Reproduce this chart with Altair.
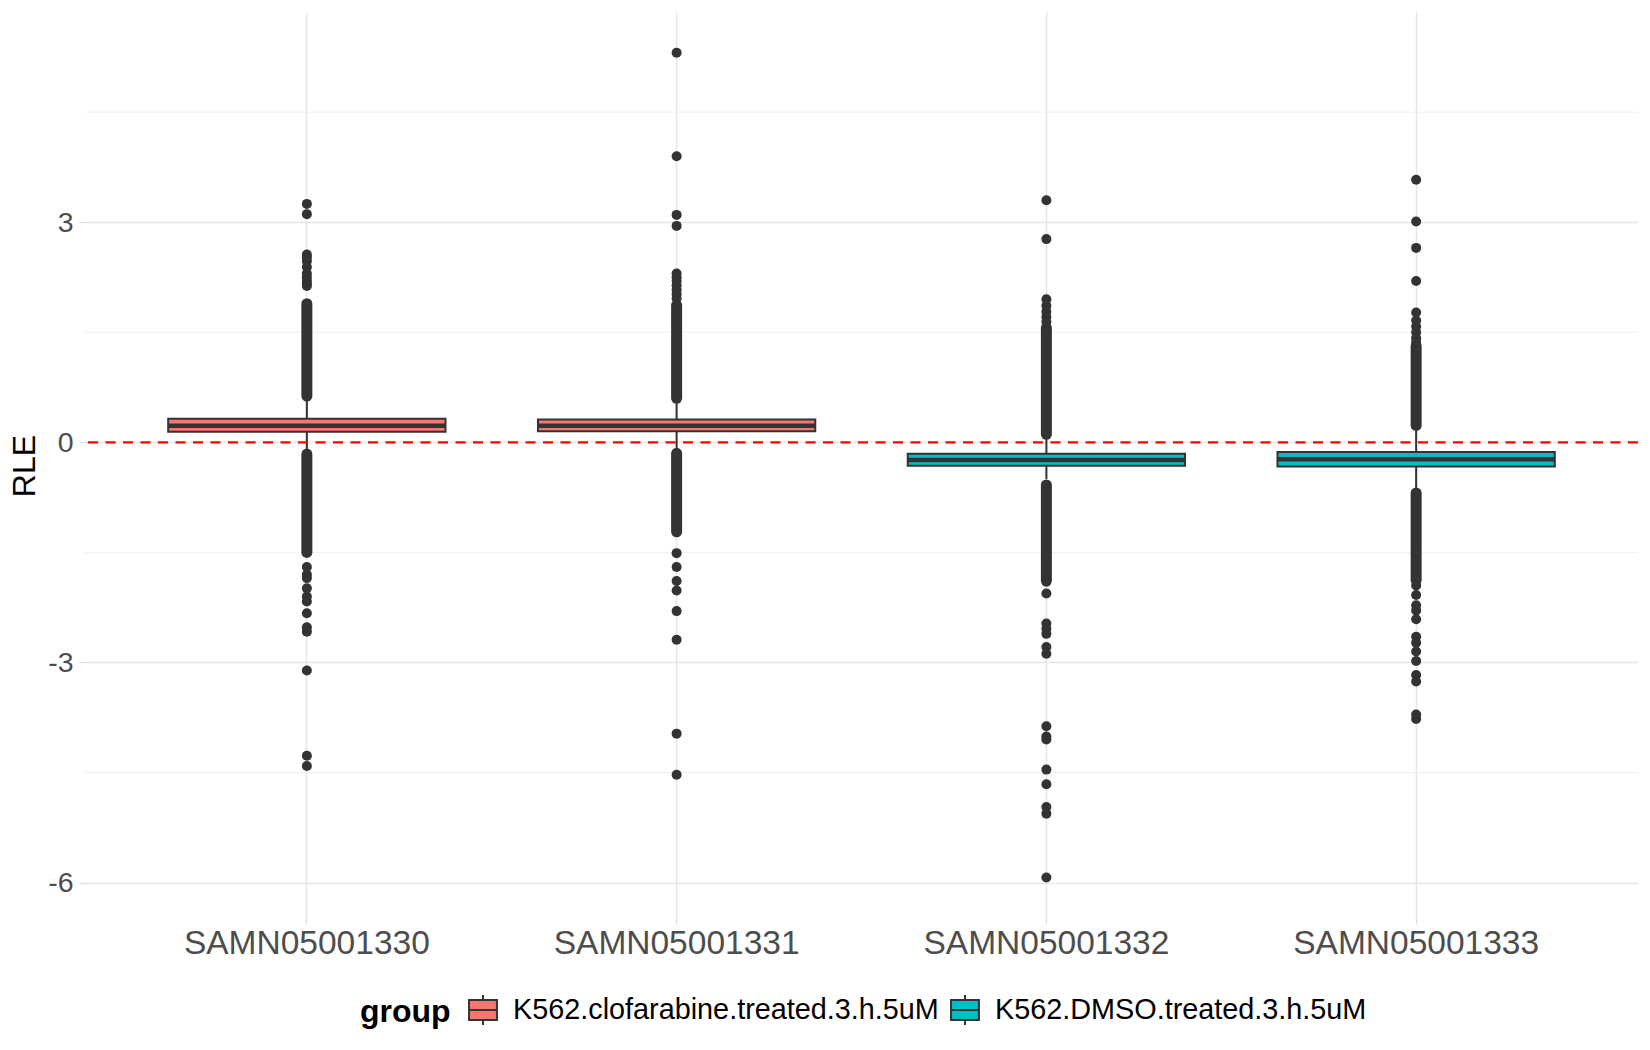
import altair as alt
import pandas as pd

# ---------------- data ----------------
samples = ["SAMN05001330", "SAMN05001331", "SAMN05001332", "SAMN05001333"]
groups = ["K562.clofarabine.treated.3.h.5uM", "K562.clofarabine.treated.3.h.5uM",
          "K562.DMSO.treated.3.h.5uM", "K562.DMSO.treated.3.h.5uM"]
group_order = ["K562.clofarabine.treated.3.h.5uM", "K562.DMSO.treated.3.h.5uM"]

lower_whisker = [-0.10, -0.08, -0.50, -0.63]
q1 = [0.145, 0.150, -0.320, -0.330]
median = [0.225, 0.225, -0.240, -0.230]
q3 = [0.320, 0.310, -0.155, -0.130]
upper_whisker = [0.575, 0.530, 0.050, 0.160]

# runs of outliers so dense that the dots merge into a solid column (start, end)
dense_upper = [(0.63, 1.89), (0.60, 1.87), (0.11, 1.56), (0.23, 1.31)]
dense_lower = [(-0.16, -1.50), (-0.15, -1.22), (-0.58, -1.88), (-0.69, -1.88)]

# separate outlier points
outliers_1330 = [3.25, 3.11, 2.56, 2.52, 2.47, 2.39, 2.30, 2.25, 2.20, 2.16, 2.13,
                 -1.70, -1.80, -1.85, -1.99, -2.10, -2.17, -2.33, -2.52, -2.58,
                 -3.11, -4.27, -4.41]
outliers_1331 = [5.31, 3.90, 3.10, 2.95, 2.30, 2.25, 2.20, 2.14, 2.08, 2.02, 1.96,
                 -1.51, -1.70, -1.89, -2.02, -2.30, -2.69, -3.97, -4.53]
outliers_1332 = [3.30, 2.77, 1.95, 1.86, 1.78, 1.71, 1.64,
                 -1.90, -2.06, -2.47, -2.54, -2.61, -2.79, -2.88, -3.87, -4.01,
                 -4.05, -4.46, -4.66, -4.97, -5.06, -5.93]
outliers_1333 = [3.58, 3.01, 2.65, 2.20, 1.77, 1.66, 1.58, 1.50, 1.42, 1.36,
                 -1.95, -2.08, -2.22, -2.29, -2.41, -2.65, -2.73, -2.85, -2.98,
                 -3.17, -3.26, -3.71, -3.77]
outliers = [outliers_1330, outliers_1331, outliers_1332, outliers_1333]

y_major = [-6, -3, 0, 3]
y_minor = [-4.5, -1.5, 1.5, 4.5]
reference_line = [0]

# ---------------- tables ----------------
box_df = pd.DataFrame({"sample": samples, "group": groups, "lw": lower_whisker,
                       "q1": q1, "med": median, "q3": q3, "uw": upper_whisker})
runs_rows = []
for s, u, l in zip(samples, dense_upper, dense_lower):
    runs_rows.append({"sample": s, "a": u[0], "b": u[1]})
    runs_rows.append({"sample": s, "a": l[0], "b": l[1]})
runs_df = pd.DataFrame(runs_rows)
pts_df = pd.DataFrame([{"sample": s, "v": v} for s, vals in zip(samples, outliers) for v in vals])
minor_df = pd.DataFrame({"v": y_minor})
zero_df = pd.DataFrame({"v": reference_line})

FONT = "Liberation Sans"
DARK = "#333333"

yscale = alt.Scale(domain=[-6.496, 5.865], nice=False, zero=False)
yaxis = alt.Axis(values=y_major, title="RLE", labelExpr="'' + datum.value",
                 labelFontSize=28.5, labelColor="#4D4D4D", labelPadding=6,
                 tickSize=6, tickColor="#DDDDDD", tickWidth=1.2,
                 grid=True, gridColor="#E6E6E6", gridWidth=1.5, domain=False,
                 titleFontSize=32, titleColor="black", titleFontWeight="normal",
                 titlePadding=6)
xscale = alt.Scale(domain=samples, paddingInner=0.25, paddingOuter=0.225)
xaxis = alt.Axis(title=None, labelAngle=0, labelFontSize=33.5, labelColor="#4D4D4D",
                 labelPadding=3, labelLimit=0, tickSize=5, tickColor="#DDDDDD",
                 tickWidth=1.2, grid=True, gridColor="#E6E6E6", gridWidth=1.5,
                 domain=False, bandPosition=0.5)


def X():
    return alt.X("sample:N", scale=xscale, axis=xaxis, sort=samples)


def Y(field):
    return alt.Y(field, type="quantitative", scale=yscale, axis=yaxis)


box_symbol = "M-0.93,-0.67H0.93V0.67H-0.93Z M-0.93,0H0.93 M0,-0.67V-1 M0,0.67V1"

minor = alt.Chart(minor_df).mark_rule(color="#F0F0F0", strokeWidth=1).encode(y=Y("v"))

whisker = alt.Chart(box_df).mark_rule(color=DARK, strokeWidth=2).encode(
    x=X(), y=Y("lw"), y2="uw")

box = alt.Chart(box_df).mark_bar(stroke=DARK, strokeWidth=2, opacity=1).encode(
    x=X(), y=Y("q1"), y2="q3",
    fill=alt.Fill("group:N", scale=alt.Scale(domain=group_order, range=["#F8766D", "#00BFC4"]),
                  legend=alt.Legend(orient="none", legendX=275, legendY=982,
                                    direction="horizontal", title="group",
                                    titleOrient="left", titleFontSize=32,
                                    titleFontWeight="bold", titleColor="black",
                                    titlePadding=16, titleBaseline="middle",
                                    labelFontSize=28.8, labelColor="black",
                                    labelLimit=0, labelOffset=14, columnPadding=8,
                                    symbolType=box_symbol, symbolSize=900,
                                    symbolStrokeColor=DARK, symbolStrokeWidth=2,
                                    symbolOpacity=1)))

med = alt.Chart(box_df).mark_tick(color=DARK, thickness=4.5, size=277, opacity=1).encode(
    x=X(), y=Y("med"))

runs = alt.Chart(runs_df).mark_rule(color=DARK, strokeWidth=11, strokeCap="round").encode(
    x=X(), y=Y("a"), y2="b")

pts = alt.Chart(pts_df).mark_circle(color=DARK, size=100, opacity=1).encode(
    x=X(), y=Y("v"))

zero = alt.Chart(zero_df).mark_rule(color="#FF0000", strokeDash=[10, 7.5], strokeWidth=2.4).encode(
    y=Y("v"))

chart = alt.layer(minor, whisker, box, med, runs, pts, zero).properties(
    width=1553, height=907,
    autosize=alt.AutoSizeParams(type="none"),
    padding={"left": 77, "top": 4, "right": 4, "bottom": 123},
).configure(font=FONT).configure_view(stroke=None)

chart.save("out.html", embed_options={"renderer": "svg", "actions": False})
